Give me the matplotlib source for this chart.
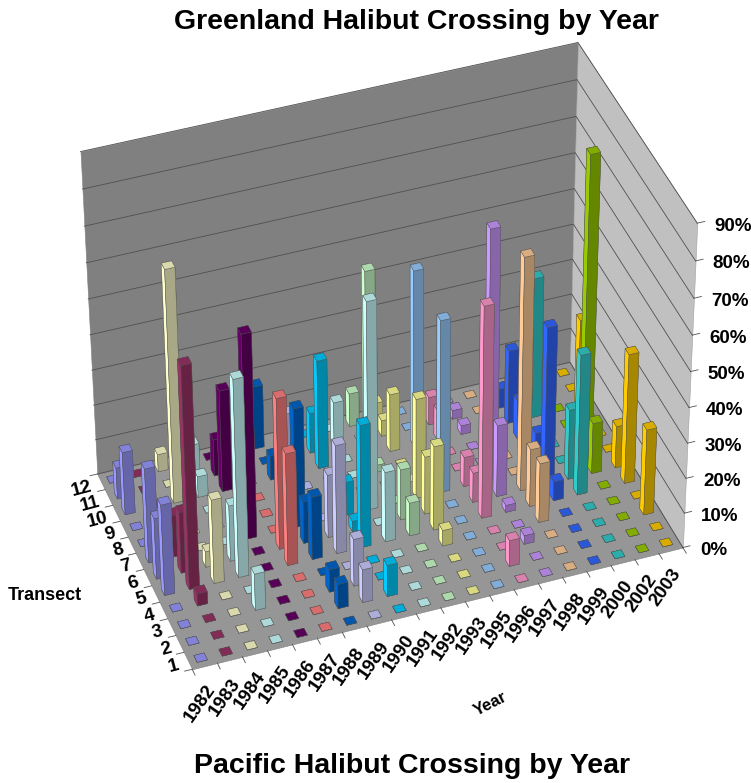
import numpy as np
import matplotlib
matplotlib.use('Agg')
import matplotlib.pyplot as plt
from mpl_toolkits.mplot3d import proj3d
from mpl_toolkits.mplot3d.art3d import Poly3DCollection

W, H = 751, 783
plt.rcParams['font.family'] = ['Liberation Sans', 'DejaVu Sans']

years = ['1982', '1983', '1984', '1985', '1986', '1987', '1988', '1989', '1990', '1991',
         '1992', '1993', '1995', '1996', '1997', '1998', '1999', '2000', '2002', '2003']
transects = list(range(1, 13))
colors = ['#9999FF', '#993366', '#FFFFCC', '#CCFFFF', '#660066', '#FF8080', '#0066CC',
          '#CCCCFF', '#00CCFF', '#CCFFFF', '#CCFFCC', '#FFFF99', '#99CCFF', '#FF99CC',
          '#CC99FF', '#FFCC99', '#3366FF', '#33CCCC', '#99CC00', '#FFCC00']

# percent of crossings per transect (1..12), one list per year
v1982 = [0, 0, 0, 0, 26, 17.5, 27, 0, 0, 18, 9, 0]
v1983 = [0, 0, 0, 3.5, 63, 17.5, 12, 0, 0, 0, 0, 0]
v1984 = [0, 0, 0, 0, 24, 4.5, 0, 0, 0, 66, 0, 5]
v1985 = [0, 0, 10.5, 0, 56, 16, 0, 0, 0, 6, 10.5, 0]
v1986 = [0, 0, 0, 0, 0, 0, 58, 0, 0, 29, 10.5, 0]
v1987 = [0, 0, 0, 0, 32, 43, 0, 0, 0, 0, 0, 0]
v1988 = [0, 7, 6.5, 0, 18, 12, 34, 0, 0, 7, 0, 18]
v1989 = [0, 9.5, 13.5, 0, 31, 18, 0, 0, 0, 0, 13, 0]
v1990 = [0, 9, 0, 0, 35, 3, 9.5, 0, 0, 31, 11.5, 0]
v1991 = [0, 0, 0, 0, 20, 0, 59, 0, 0, 0, 13, 0]
v1992 = [0, 0, 0, 0, 9.5, 14.5, 0, 0, 2, 53, 0, 9.5]
v1993 = [0, 0, 0, 4.5, 24, 16.5, 28.5, 0, 0, 16.5, 4.5, 5]
v1995 = [0, 0, 0, 0, 0, 0, 49, 0, 0, 50, 0, 0]
v1996 = [0, 7.5, 0, 0, 60, 8.5, 8.5, 0, 0, 8.5, 8, 0]
v1997 = [0, 0, 2.5, 0, 2, 20.5, 71, 0, 0, 2.5, 2.5, 0]
v1998 = [0, 0, 0, 17, 16.5, 66, 0, 0, 0, 0, 0, 0]
v1999 = [0, 0, 0, 0, 5.5, 45, 10.5, 0, 11, 21, 5.5, 0]
v2000 = [0, 0, 0, 0, 40, 20, 0, 0, 0, 40, 0, 0]
v2002 = [0, 0, 0, 0, 0, 14.5, 85, 0, 0, 0, 0, 0]
v2003 = [0, 0, 24.5, 0, 37, 12, 0, 0, 0, 25, 0, 0]
series = [v1982, v1983, v1984, v1985, v1986, v1987, v1988, v1989, v1990, v1991,
          v1992, v1993, v1995, v1996, v1997, v1998, v1999, v2000, v2002, v2003]

fig = plt.figure(figsize=(W / 100, H / 100), dpi=100)
ax = fig.add_axes([16.9 / W, 60.1 / H, 720.4 / W, 720.4 / H], projection='3d', computed_zorder=False)
ax.set_axis_off()
ax.patch.set_alpha(0)
ax.view_init(39.6784, -109.7238, 0.2602)
ax.set_proj_type('persp', focal_length=1.323)
ax.set_box_aspect((1, 0.5973, 0.7995))

wall_back = [[(0, 12, 0), (20, 12, 0), (20, 12, 90), (0, 12, 90)]]
wall_right = [[(20, 0, 0), (20, 12, 0), (20, 12, 90), (20, 0, 90)]]
floor = [[(0, 0, 0), (20, 0, 0), (20, 12, 0), (0, 12, 0)]]
ax.add_collection3d(Poly3DCollection(wall_back, facecolor='#808080', edgecolor='#808080', linewidth=0.4, zorder=1))
ax.add_collection3d(Poly3DCollection(wall_right, facecolor='#C0C0C0', edgecolor='#A0A0A0', linewidth=0.4, zorder=1))
ax.add_collection3d(Poly3DCollection(floor, facecolor='#969696', edgecolor='#808080', linewidth=0.4, zorder=1))

for z in range(0, 100, 10):
    ax.plot([0, 20, 20], [12, 12, 0], [z, z, z], color='#505050', lw=0.6, zorder=2)
    ax.plot([20, 20.3], [0, 0], [z, z], color='#505050', lw=0.6, zorder=2)
for i in range(21):
    ax.plot([i, i], [0, -0.35], [0, 0], color='#505050', lw=0.6, zorder=2)
for j in range(13):
    ax.plot([0, -0.3], [j, j], [0, 0], color='#505050', lw=0.6, zorder=2)

# paint back to front: far transects and late years first
bw = 0.41
pad = (1 - bw) / 2
order = 10
for j in range(11, -1, -1):
    for i in range(19, -1, -1):
        base = np.array(matplotlib.colors.to_rgb(colors[i]))
        top, front = base * 0.85, base * 0.66
        faces = [top, top, front, front, base, base]
        ax.bar3d(i + pad, j + pad, 0, bw, bw, series[i][j], color=faces, shade=False,
                 edgecolor='#505050', linewidth=0.3, zorder=order)
        order += 1
ax.set_xlim(0, 20, view_margin=0)
ax.set_ylim(0, 12, view_margin=0)
ax.set_zlim(0, 90, view_margin=0)

# tick labels sit a fixed pixel offset from their 3D anchor
M = ax.get_proj()
def tick_label(x, y, z, s, offset, **kw):
    px, py, _ = proj3d.proj_transform(x, y, z, M)
    ax.annotate(s, (px, py), xytext=offset, textcoords='offset pixels', fontsize=13.5,
                fontweight='bold', rotation_mode='anchor', annotation_clip=False, **kw)

for z in range(0, 100, 10):
    tick_label(20, 0, z, f'{z}%', (17, -3), ha='left', va='center')
for i, y in enumerate(years):
    tick_label(i + 0.5, 0, 0, y, (7, -20), rotation=55, ha='right', va='center')
for j, t in enumerate(transects):
    tick_label(0, j + 0.5, 0, str(t), (-9, -4), rotation=15, ha='right', va='center')

fig.text(416 / W, 1 - 22 / H, 'Greenland Halibut Crossing by Year', ha='center', va='center', fontsize=20.5, fontweight='bold')
fig.text(412 / W, 1 - 766 / H, 'Pacific Halibut Crossing by Year', ha='center', va='center', fontsize=20.5, fontweight='bold')
fig.text(45 / W, 1 - 596 / H, 'Transect', ha='center', va='center', fontsize=13, fontweight='bold')
fig.text(490 / W, 1 - 704 / H, 'Year', ha='center', va='center', rotation=27, fontsize=12, fontweight='bold')

fig.savefig('out.png', dpi=100)
